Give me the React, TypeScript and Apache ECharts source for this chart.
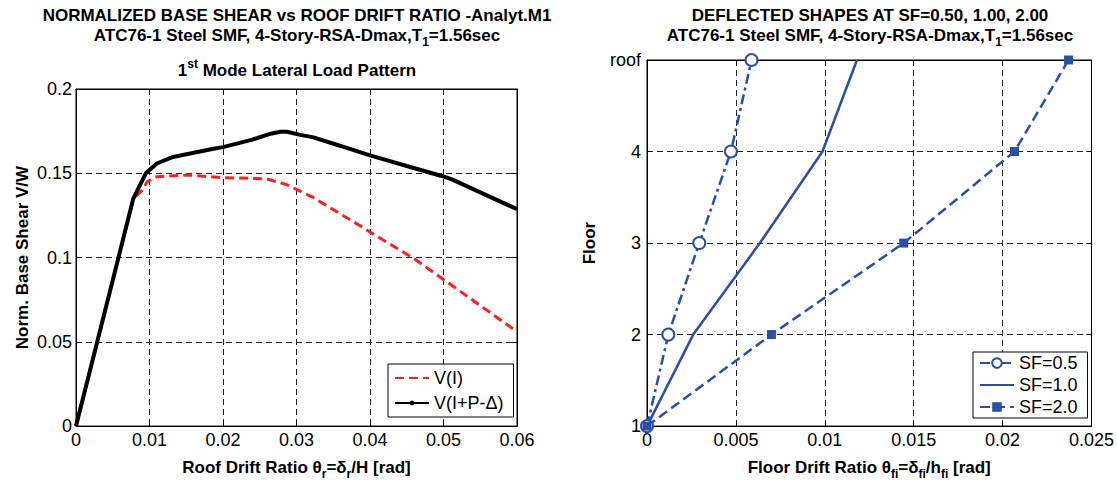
import React, { useEffect, useRef } from 'react';
import * as echarts from 'echarts';

const FONT = '"Liberation Sans", Arial, Helvetica, sans-serif';

// ---- Left panel: normalized base shear vs roof drift ratio ----
const driftI = [0, 0.0078, 0.0089, 0.0097, 0.011, 0.0151, 0.0196, 0.0259, 0.0287, 0.0323, 0.0386, 0.04, 0.0459, 0.05, 0.055, 0.06];
const shearI = [0, 0.135, 0.1394, 0.145, 0.148, 0.149, 0.1475, 0.1467, 0.1432, 0.1355, 0.119, 0.1151, 0.0996, 0.087, 0.0715, 0.056];
const driftPD = [0, 0.0078, 0.0087, 0.0095, 0.011, 0.0132, 0.0187, 0.02, 0.024, 0.0265, 0.0278, 0.0287, 0.0305, 0.0323, 0.036, 0.04, 0.045, 0.05, 0.0513, 0.055, 0.06];
const shearPD = [0, 0.135, 0.143, 0.15, 0.1558, 0.1597, 0.1645, 0.1655, 0.17, 0.1735, 0.1746, 0.1746, 0.1728, 0.1713, 0.1662, 0.1606, 0.1543, 0.1481, 0.1461, 0.1387, 0.1287];

// ---- Right panel: deflected shapes ----
const floorLevels = [1, 2, 3, 4, 5];
const floorTickLabels = ['1', '2', '3', '4', 'roof'];
const driftSF05 = [0, 0.0012, 0.00294, 0.00472, 0.00588];
const driftSF10 = [0, 0.0026, 0.00635, 0.00987, 0.01181];
const driftSF20 = [0, 0.007, 0.01444, 0.02067, 0.02371];

const BLUE = '#2D4EA6';
const RED = '#FF1F1F';

const zip = (xs: number[], ys: number[]) => xs.map((x, i) => [x, ys[i]]);
const fmt = (v: number) => String(parseFloat(v.toFixed(4)));

const rich = {
  b: { fontSize: 17, fontWeight: 'bold', fontFamily: FONT, color: '#000', fill: '#000', lineHeight: 20, verticalAlign: 'middle' },
  s: { fontSize: 12, fontWeight: 'bold', fontFamily: FONT, color: '#000', fill: '#000', lineHeight: 12, padding: [14, 0, 0, 0], verticalAlign: 'middle' },
  sup: { fontSize: 12, fontWeight: 'bold', fontFamily: FONT, color: '#000', fill: '#000', lineHeight: 12, padding: [0, 0, 12, 0], verticalAlign: 'middle' },
};

const tickLabel = { color: '#000', fontSize: 18, fontFamily: FONT };
const splitLine = { show: true, lineStyle: { color: '#222', width: 1, type: [6, 4] } };
const axisLine = { show: true, onZero: false, lineStyle: { color: '#000', width: 1 } };
const axisTick = { show: true, inside: true, length: 5, lineStyle: { color: '#000', width: 1 } };

function mainX(gridIndex: number, max: number, interval: number, name: string, gap: number) {
  return {
    gridIndex, type: 'value', position: 'bottom', min: 0, max, interval,
    axisLine, axisTick, splitLine,
    axisLabel: { ...tickLabel, margin: 5, formatter: (v: number) => fmt(v) },
    name, nameLocation: 'middle', nameGap: gap,
    nameTextStyle: { rich, fontSize: 17, fontWeight: 'bold', color: '#000', fontFamily: FONT },
  };
}
function boxX(gridIndex: number, max: number, interval: number) {
  return {
    gridIndex, type: 'value', position: 'top', min: 0, max, interval,
    axisLine, axisTick, splitLine: { show: false }, axisLabel: { show: false },
  };
}

export default function App() {
  const ref = useRef<HTMLDivElement>(null);
  useEffect(() => {
    if (!ref.current) return;
    const chart = echarts.init(ref.current, undefined, { renderer: 'svg' });
    const option: any = {
      animation: false,
      backgroundColor: '#fff',
      textStyle: { fontFamily: FONT },
      grid: [
        { left: 76, top: 89, width: 441, height: 344, show: true, borderColor: '#000', borderWidth: 1, backgroundColor: '#fff' },
        { left: 647, top: 60, width: 445, height: 372, show: true, borderColor: '#000', borderWidth: 1, backgroundColor: '#fff' },
      ],
      xAxis: [
        mainX(0, 0.06, 0.01, '{b|Roof Drift Ratio θ}{s|r}{b|=δ}{s|r}{b|/H [rad]}', 24),
        boxX(0, 0.06, 0.01),
        mainX(1, 0.025, 0.005, '{b|Floor Drift Ratio θ}{s|fi}{b|=δ}{s|fi}{b|/h}{s|fi}{b| [rad]}', 24),
        boxX(1, 0.025, 0.005),
      ],
      yAxis: [
        {
          gridIndex: 0, type: 'value', position: 'left', min: 0, max: 0.2, interval: 0.05,
          axisLine, axisTick, splitLine,
          axisLabel: { ...tickLabel, margin: 4, formatter: (v: number) => fmt(v) },
          name: 'Norm. Base Shear V/W', nameLocation: 'middle', nameGap: 45,
          nameTextStyle: { fontSize: 17, fontWeight: 'bold', color: '#000', fontFamily: FONT },
        },
        {
          gridIndex: 0, type: 'value', position: 'right', min: 0, max: 0.2, interval: 0.05,
          axisLine, axisTick, splitLine: { show: false }, axisLabel: { show: false },
        },
        {
          gridIndex: 1, type: 'value', position: 'left', min: 1, max: 5, interval: 1,
          axisLine, axisTick, splitLine,
          axisLabel: { ...tickLabel, margin: 6, formatter: (v: number) => floorTickLabels[floorLevels.indexOf(v)] ?? '' },
          name: 'Floor', nameLocation: 'middle', nameGap: 49,
          nameTextStyle: { fontSize: 17, fontWeight: 'bold', color: '#000', fontFamily: FONT },
        },
        {
          gridIndex: 1, type: 'value', position: 'right', min: 1, max: 5, interval: 1,
          axisLine, axisTick, splitLine: { show: false }, axisLabel: { show: false },
        },
      ],
      legend: [
        {
          orient: 'vertical', left: 388, top: 364, itemWidth: 34, itemHeight: 6, itemGap: 7,
          padding: [5, 10, 5, 6], backgroundColor: '#fff', borderColor: '#000', borderWidth: 1, borderRadius: 0,
          textStyle: { fontSize: 18, color: '#000', fontFamily: FONT },
          data: [{ name: 'V(I)', itemStyle: { opacity: 0 } }, { name: 'V(I+P-Δ)' }],
        },
        {
          orient: 'vertical', left: 973, top: 352, itemWidth: 34, itemHeight: 12, itemGap: 4,
          padding: [2, 10, 2, 6], backgroundColor: '#fff', borderColor: '#000', borderWidth: 1, borderRadius: 0,
          textStyle: { fontSize: 18, color: '#000', fontFamily: FONT },
          data: [{ name: 'SF=0.5' }, { name: 'SF=1.0', itemStyle: { opacity: 0 } }, { name: 'SF=2.0' }],
        },
      ],
      graphic: [
        {
          type: 'text', x: 297, y: 5, z: 100,
          style: {
            text: '{b|NORMALIZED BASE SHEAR vs ROOF DRIFT RATIO -Analyt.M1}\n{b|ATC76-1 Steel SMF, 4-Story-RSA-Dmax,T}{s|1}{b|=1.56sec}',
            rich, align: 'center', verticalAlign: 'top', textAlign: 'center', textVerticalAlign: 'top', fill: '#000',
          },
        },
        {
          type: 'text', x: 297, y: 60, z: 100,
          style: {
            text: '{b|1}{sup|st}{b| Mode Lateral Load Pattern}',
            rich, align: 'center', verticalAlign: 'top', textAlign: 'center', textVerticalAlign: 'top', fill: '#000',
          },
        },
        {
          type: 'text', x: 870, y: 5, z: 100,
          style: {
            text: '{b|DEFLECTED SHAPES AT SF=0.50, 1.00, 2.00}\n{b|ATC76-1 Steel SMF, 4-Story-RSA-Dmax,T}{s|1}{b|=1.56sec}',
            rich, align: 'center', verticalAlign: 'top', textAlign: 'center', textVerticalAlign: 'top', fill: '#000',
          },
        },
      ],
      series: [
        {
          name: 'V(I)', type: 'line', xAxisIndex: 0, yAxisIndex: 0, data: zip(driftI, shearI),
          symbol: 'none', z: 2, lineStyle: { color: RED, width: 3, type: [9, 5] }, itemStyle: { color: RED },
        },
        {
          name: 'V(I+P-Δ)', type: 'line', xAxisIndex: 0, yAxisIndex: 0, data: zip(driftPD, shearPD),
          symbol: 'circle', symbolSize: 3, showSymbol: false, z: 3,
          lineStyle: { color: '#000', width: 4 }, itemStyle: { color: '#000' },
        },
        {
          name: 'SF=0.5', type: 'line', xAxisIndex: 2, yAxisIndex: 2, data: zip(driftSF05, floorLevels),
          symbol: 'emptyCircle', symbolSize: 12, clip: false, z: 4,
          lineStyle: { color: BLUE, width: 2.5, type: [10, 4, 3, 4] }, itemStyle: { color: BLUE, borderWidth: 2.5 },
        },
        {
          name: 'SF=1.0', type: 'line', xAxisIndex: 2, yAxisIndex: 2, data: zip(driftSF10, floorLevels),
          symbol: 'none', clip: false, z: 3,
          lineStyle: { color: BLUE, width: 2.5 }, itemStyle: { color: BLUE },
        },
        {
          name: 'SF=2.0', type: 'line', xAxisIndex: 2, yAxisIndex: 2, data: zip(driftSF20, floorLevels),
          symbol: 'rect', symbolSize: 9, clip: false, z: 4,
          lineStyle: { color: BLUE, width: 2.5, type: [10, 5] }, itemStyle: { color: BLUE },
        },
      ],
    };
    chart.setOption(option);
    return () => chart.dispose();
  }, []);
  return <div ref={ref} style={{ position: 'fixed', left: 0, top: 0, width: 1117, height: 485, background: '#fff' }} />;
}
